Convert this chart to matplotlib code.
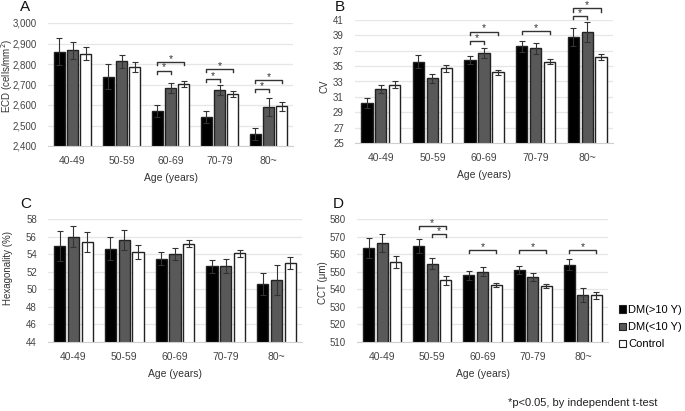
import numpy as np
import matplotlib.pyplot as plt
from matplotlib.patches import Patch

plt.rcParams['font.family'] = ['Liberation Sans', 'DejaVu Sans']

ages = ["40-49", "50-59", "60-69", "70-79", "80~"]
groups = ["DM(>10 Y)", "DM(<10 Y)", "Control"]
colors = ["#000000", "#595959", "#ffffff"]

ecd = [[2860, 2738, 2570, 2543, 2457],
       [2866, 2813, 2682, 2672, 2590],
       [2850, 2786, 2702, 2653, 2593]]
ecd_err = [[65, 60, 30, 30, 30],
           [40, 33, 25, 25, 43],
           [32, 25, 15, 15, 22]]

cv = [[30.2, 35.6, 35.8, 37.6, 38.8],
      [32.0, 33.4, 36.7, 37.3, 39.5],
      [32.6, 34.7, 34.2, 35.6, 36.2]]
cv_err = [[0.7, 0.8, 0.5, 0.7, 1.2],
          [0.5, 0.6, 0.6, 0.7, 1.3],
          [0.5, 0.5, 0.3, 0.3, 0.4]]

hexa = [[54.9, 54.6, 53.5, 52.6, 50.6],
        [56.0, 55.6, 54.0, 52.7, 51.1],
        [55.4, 54.2, 55.2, 54.1, 53.0]]
hexa_err = [[1.7, 1.3, 0.7, 0.7, 1.3],
            [1.2, 1.1, 0.7, 0.8, 1.7],
            [1.1, 0.8, 0.4, 0.4, 0.7]]

cct = [[563.5, 564.5, 548.0, 551.0, 554.0],
       [566.5, 554.5, 550.0, 547.0, 537.0],
       [555.5, 545.0, 542.5, 542.0, 536.5]]
cct_err = [[5.5, 4.0, 2.5, 2.5, 3.0],
           [5.0, 3.2, 2.5, 2.5, 4.0],
           [3.5, 2.7, 1.2, 1.2, 1.8]]

# (age index, bar i, bar j, height)
sig_a = [(2, 0, 1, 2768), (2, 0, 2, 2808), (3, 0, 1, 2727), (3, 0, 2, 2776),
         (4, 0, 1, 2677), (4, 0, 2, 2722)]
sig_b = [(2, 0, 1, 38.3), (2, 0, 2, 39.5), (3, 0, 2, 39.6),
         (4, 0, 1, 41.5), (4, 0, 2, 42.5)]
sig_d = [(1, 0, 2, 576), (1, 1, 2, 571.3), (2, 0, 2, 562.4),
         (3, 0, 2, 562.4), (4, 0, 2, 562.4)]

W = 0.22
OFF = [-0.27, 0, 0.27]
FW, FH = 685.0, 411.0


def panel(ax, vals, errs, ylim, step, sigs, tickfmt="{:g}"):
    x = np.arange(len(ages))
    for k in range(3):
        ax.bar(x + OFF[k], vals[k], W, color=colors[k], edgecolor="#222222",
               linewidth=1.0, zorder=3)
        ax.errorbar(x + OFF[k], vals[k], yerr=errs[k], fmt="none",
                    ecolor="#333333", elinewidth=0.8, capsize=2, capthick=0.8,
                    zorder=4)
    ax.set_xlim(-0.5, 4.5)
    ax.set_ylim(*ylim)
    ticks = np.arange(ylim[0], ylim[1] + step / 2, step)
    ax.set_yticks(ticks)
    ax.set_yticklabels([tickfmt.format(t) for t in ticks], fontsize=7,
                       color="#444444")
    ax.set_xticks(x)
    ax.set_xticklabels(ages, fontsize=7.5, color="#444444")
    ax.tick_params(axis="x", length=0, pad=7)
    ax.tick_params(axis="y", length=0, pad=8)
    ax.grid(axis="y", color="#e6e6e6", linewidth=0.9, zorder=0)
    for s in ["top", "right", "left"]:
        ax.spines[s].set_visible(False)
    ax.spines["bottom"].set_color("#cfcfcf")
    ax.spines["bottom"].set_zorder(5)
    span = ylim[1] - ylim[0]
    tick = span * 0.025
    for g, i, j, h in sigs:
        x1, x2 = g + OFF[i], g + OFF[j]
        ax.plot([x1, x1, x2, x2], [h - tick, h, h, h - tick], color="#333333",
                linewidth=1.0, clip_on=False, zorder=5)
        ax.text((x1 + x2) / 2, h - span * 0.015, "*", ha="center",
                va="bottom", fontsize=7.5, color="#333333", clip_on=False)


def ptext(x, y, s, **kw):
    fig.text(x / FW, 1 - y / FH, s, **kw)


fig = plt.figure(figsize=(6.85, 4.11), dpi=100)
axA = fig.add_axes([48 / FW, 1 - 146 / FH, 245 / FW, 123 / FH])
axB = fig.add_axes([355 / FW, 1 - 143 / FH, 258 / FW, 123 / FH])
axC = fig.add_axes([48 / FW, 1 - 342 / FH, 254 / FW, 123 / FH])
axD = fig.add_axes([357 / FW, 1 - 342 / FH, 251 / FW, 123 / FH])

panel(axA, ecd, ecd_err, (2400, 3000), 100, sig_a, "{:,.0f}")
panel(axB, cv, cv_err, (25, 41), 2, sig_b)
panel(axC, hexa, hexa_err, (44, 58), 2, [])
panel(axD, cct, cct_err, (510, 580), 10, sig_d)

for ax in [axA, axB, axC, axD]:
    ax.set_xlabel("Age (years)", fontsize=7.5, color="#333333", labelpad=5)

lab = dict(rotation=90, ha="center", va="center", fontsize=7, color="#333333")
ptext(7, 76, "ECD (cells/mm$^2$)", **lab)
ptext(325, 86, "CV", **lab)
ptext(8, 268, "Hexagonality (%)", **lab)
ptext(323, 283, "CCT (\u03bcm)", **lab)

let = dict(ha="center", va="center", fontsize=11, color="#111111")
ptext(25, 7, "A", **let)
ptext(340, 7, "B", **let)
ptext(26, 204, "C", **let)
ptext(338, 204, "D", **let)

handles = [Patch(facecolor=colors[k], edgecolor="#222222", linewidth=0.8)
           for k in range(3)]
fig.legend(handles, groups, loc="lower left", bbox_to_anchor=(619 / FW, 0.15),
           frameon=False, fontsize=8, handlelength=0.6, handleheight=0.6,
           handletextpad=0.25, labelspacing=0.65, borderpad=0,
           borderaxespad=0)

ptext(508, 403, "*p<0.05, by independent t-test", fontsize=8,
      color="#222222", ha="left", va="center")

fig.savefig("out.png", dpi=100)
